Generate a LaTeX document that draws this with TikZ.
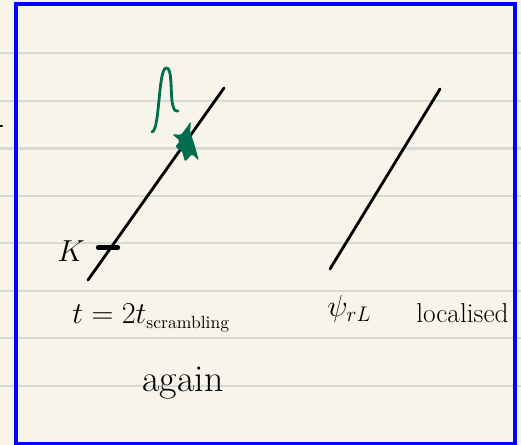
\documentclass[tikz,border=0pt]{standalone}
\usepackage{amsmath}
\usetikzlibrary{positioning}
\definecolor{paper}{HTML}{F7F5EA}
\definecolor{rule}{HTML}{D8D8D4}
\definecolor{ink}{HTML}{006E4E}

\begin{document}
\begin{tikzpicture}[x=0.02cm,y=-0.02cm,font=\LARGE,
  ruled/.style={rule,line width=1.2pt},
  pen/.style={black,line width=1.6pt,line cap=round},
  greenpen/.style={ink,line width=1.6pt,line cap=round,line join=round},
  label/.style={inner sep=0pt}]
% paper and frame
\fill[paper] (0,0) rectangle (521,445);
\useasboundingbox (0,0) rectangle (521,445);
\foreach \y in {53,101,148.5,196,243,291,338,386}
  \draw[ruled] (0,\y) -- (521,\y);
\draw[pen,line width=1.2pt] (0,126) -- (2,126);

% left world line
\coordinate (a1) at (88,280);
\coordinate (a2) at (224,88);
\draw[pen] (a1) -- (a2);
\coordinate (k1) at (98,247.5);
\coordinate (k2) at (118,247.5);
\draw[pen,line width=2.4pt] (k1) -- (k2);
\node[label] (K) at (71,251) {$K$};

% green bump and blob
\draw[greenpen] (152,132) .. controls (160,130) and (158,70) .. (166,68)
  .. controls (173,66) and (170,98) .. (173,106) .. controls (174,111) and (177,112) .. (178,111);
\fill[ink,rounded corners=1pt] (172,134) -- (181,135) -- (187,127) -- (191,121) -- (190,132)
  -- (194,143) -- (199,161) -- (192,154) -- (185,162) -- (182,151) -- (175,147) -- (180,141) -- cycle;

% right world line
\coordinate (b1) at (330,269);
\coordinate (b2) at (440,89);
\draw[pen] (b1) -- (b2);

% captions
\node[label,anchor=south west] (tscr) at (72,332) {$t=2t_{\text{\normalsize scrambling}}$};
\node[label,scale=1.25] (again) at (183,383) {again};
\node[label,anchor=south west] (psi) at (327,323) {$\psi_{rL}$};
\node[label,anchor=south west,scale=0.9] (loc) at (416,323) {localised};
\draw[blue,line width=2.2pt] (16,4) rectangle (515,444);
\end{tikzpicture}
\end{document}
